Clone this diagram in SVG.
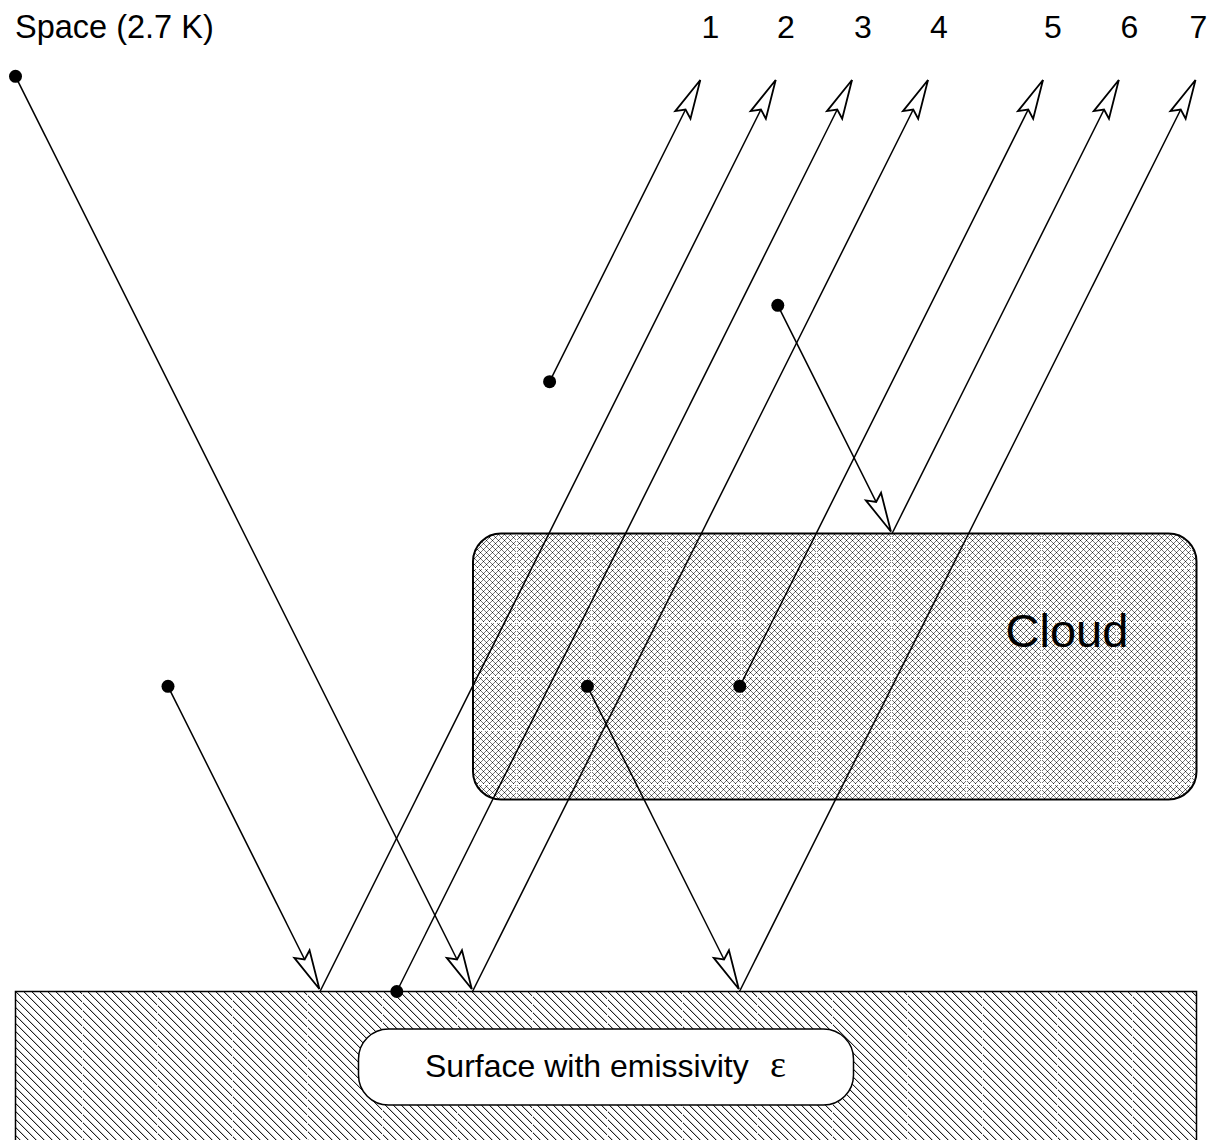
<svg xmlns="http://www.w3.org/2000/svg" width="1223" height="1140" viewBox="0 0 1223 1140">
<style>
  .ln{stroke:#000;stroke-width:1.5;fill:none}
  .arr{marker-end:url(#ah)}
  .dot{fill:#000}
  .txt{font-family:"Liberation Sans",Arial,sans-serif;fill:#000}
  .px{shape-rendering:crispEdges}
</style>
<defs>
  <marker id="ah" markerUnits="userSpaceOnUse" markerWidth="56" markerHeight="32" viewBox="-48 -16 56 32" refX="0" refY="0" orient="auto">
    <path d="M0,0 L-39,-8.5 L-33,0 L-39,8.5 Z" fill="#fff" stroke="#000" stroke-width="1.8"/>
  </marker>
  <pattern id="cross" width="6" height="6" patternUnits="userSpaceOnUse">
    <rect width="6" height="6" fill="#fff"/>
    <path class="px" d="M1,1h1v1h-1zM2,2h1v1h-1zM4,4h1v1h-1zM5,5h1v1h-1zM1,5h1v1h-1zM2,4h1v1h-1zM4,2h1v1h-1zM5,1h1v1h-1z" fill="#7a7a7a"/>
    <path class="px" d="M0,0h1v1h-1zM3,3h1v1h-1z" fill="#222"/>
  </pattern>
  <pattern id="cgrid" x="516" y="568" width="75" height="54" patternUnits="userSpaceOnUse">
    <rect class="px" x="0" y="0" width="1" height="54" fill="#fff"/>
    <rect class="px" x="0" y="0" width="75" height="1" fill="#fff"/>
  </pattern>
  <pattern id="diag" width="8" height="8" patternUnits="userSpaceOnUse">
    <rect width="8" height="8" fill="#fff"/>
    <path class="px" d="M0,0h1v1h-1zM1,1h1v1h-1zM2,2h1v1h-1zM3,3h1v1h-1zM4,4h1v1h-1zM5,5h1v1h-1zM6,6h1v1h-1zM7,7h1v1h-1z" fill="#222"/>
    <path class="px" d="M1,0h1v1h-1zM2,1h1v1h-1zM3,2h1v1h-1zM4,3h1v1h-1zM5,4h1v1h-1zM6,5h1v1h-1zM7,6h1v1h-1zM0,7h1v1h-1z" fill="#c4c4c4"/>
  </pattern>
  <pattern id="sgrid" x="82" y="0" width="75" height="1140" patternUnits="userSpaceOnUse">
    <rect class="px" x="0" y="0" width="1" height="1140" fill="#fff" fill-opacity="0.85"/>
  </pattern>
</defs>

<g id="surface">
  <rect x="15.5" y="991.5" width="1181" height="160" fill="url(#diag)"/>
  <rect x="15.5" y="991.5" width="1181" height="160" fill="url(#sgrid)"/>
  <rect x="15.5" y="991.5" width="1181" height="160" fill="none" stroke="#000" stroke-width="1.5"/>
</g>

<g id="cloud">
  <rect x="473" y="533.5" width="723.5" height="266" rx="28" ry="28" fill="url(#cross)"/>
  <rect x="473" y="533.5" width="723.5" height="266" rx="28" ry="28" fill="url(#cgrid)"/>
  <rect x="473" y="533.5" width="723.5" height="266" rx="28" ry="28" fill="none" stroke="#000" stroke-width="2"/>
  <text class="txt" x="1005.5" y="647" font-size="47">Cloud</text>
</g>

<g id="surface-label">
  <rect x="358.5" y="1029" width="495" height="76" rx="30" ry="30" fill="#fff" stroke="#000" stroke-width="1.5"/>
  <text class="txt" x="425" y="1076.5" font-size="32">Surface with emissivity<tspan x="770" font-family="'Liberation Serif','Times New Roman',serif" font-size="38">ε</tspan></text>
</g>

<g id="space-label">
  <text class="txt" x="15" y="38" font-size="32.5">Space (2.7 K)</text>
</g>

<g id="ray-numbers" class="txt" font-size="32" text-anchor="middle">
  <text x="710.5" y="37.5">1</text>
  <text x="786" y="37.5">2</text>
  <text x="863" y="37.5">3</text>
  <text x="939" y="37.5">4</text>
  <text x="1053" y="37.5">5</text>
  <text x="1129.5" y="37.5">6</text>
  <text x="1198.5" y="37.5">7</text>
</g>

<g id="connectors">
  <line class="ln arr" x1="15.5" y1="76.3" x2="471.8" y2="989"/>
  <line class="ln arr" x1="168" y1="686.3" x2="319.4" y2="989"/>
  <line class="ln arr" x1="587.4" y1="686.3" x2="738.8" y2="989"/>
  <line class="ln arr" x1="777.8" y1="305.3" x2="890.9" y2="531.5"/>
  <line class="ln arr" x1="549.6" y1="381.7" x2="700.3" y2="80"/>
  <line class="ln arr" x1="320" y1="991.5" x2="775.7" y2="80"/>
  <line class="ln arr" x1="396.8" y1="991.5" x2="852" y2="80"/>
  <line class="ln arr" x1="472.5" y1="991.5" x2="928" y2="80"/>
  <line class="ln arr" x1="739.8" y1="686.3" x2="1043" y2="80"/>
  <line class="ln arr" x1="892.3" y1="533" x2="1118.8" y2="80"/>
  <line class="ln arr" x1="739.5" y1="991.5" x2="1195.5" y2="80"/>
</g>

<g id="sources">
  <circle class="dot" cx="15.5" cy="76.3" r="6.5"/>
  <circle class="dot" cx="168" cy="686.3" r="6.5"/>
  <circle class="dot" cx="587.4" cy="686.3" r="6.5"/>
  <circle class="dot" cx="777.8" cy="305.3" r="6.5"/>
  <circle class="dot" cx="549.6" cy="381.7" r="6.5"/>
  <circle class="dot" cx="396.8" cy="991.5" r="6.5"/>
  <circle class="dot" cx="739.8" cy="686.3" r="6.5"/>
</g>
</svg>
